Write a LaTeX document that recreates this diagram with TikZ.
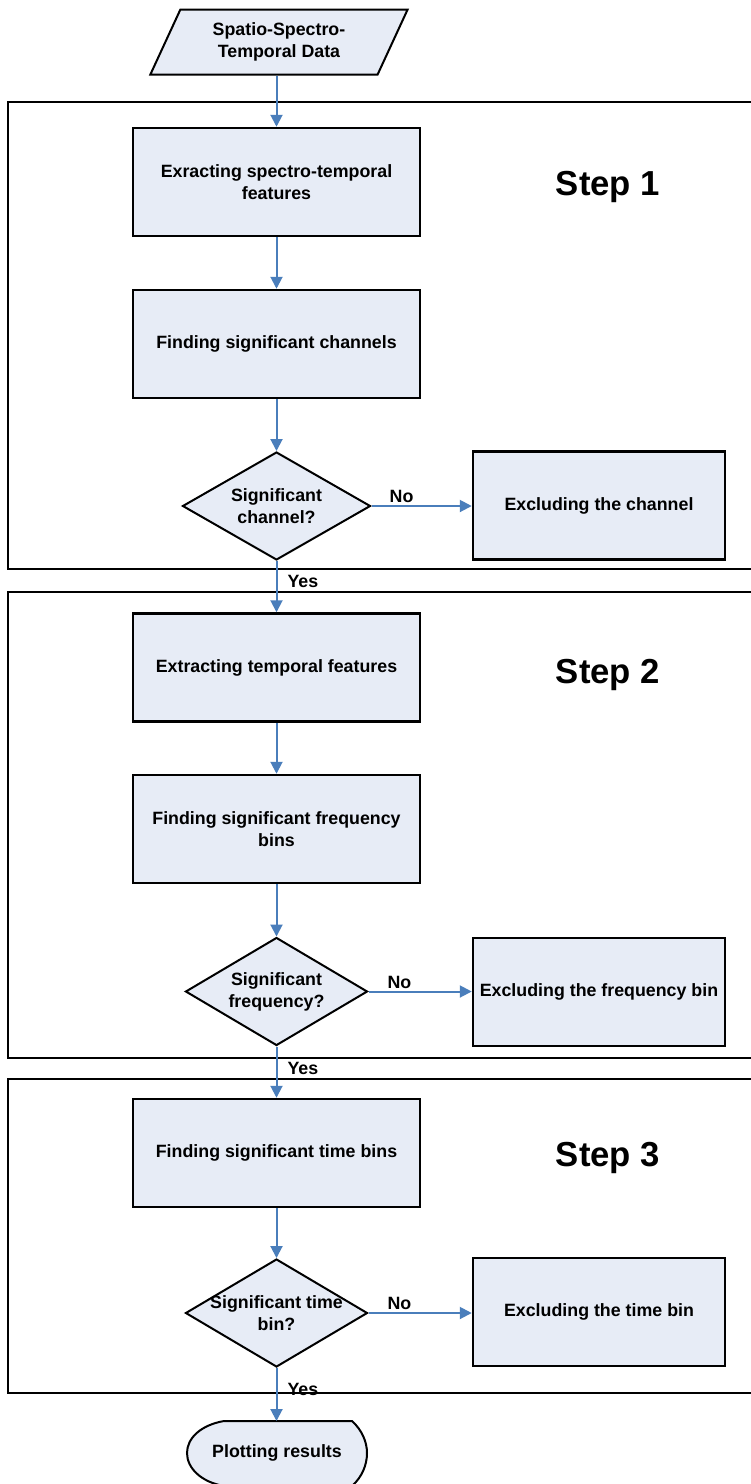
\documentclass[tikz,border=0pt]{standalone}
\usepackage{fontspec}
\setsansfont{Liberation Sans}
\usetikzlibrary{shapes.geometric,arrows.meta}
\newcommand{\unitsize}{1pt}
\definecolor{boxfill}{RGB}{231,236,246}
\definecolor{flowblue}{RGB}{74,126,187}
\tikzset{
	txt/.style={font=\sffamily\bfseries\fontsize{17.8}{22}\selectfont, align=center, inner sep=2pt},
	steptxt/.style={font=\sffamily\bfseries\fontsize{34.7}{40}\selectfont},
	frame/.style={draw=black, line width=1.5pt},
	process/.style={txt, draw, line width=2.5pt, fill=boxfill, minimum width=287pt, minimum height=108pt, inner sep=0pt},
	exclude/.style={process, minimum width=252pt},
	decision/.style={draw, diamond, line width=2pt, fill=boxfill, inner sep=0pt, minimum width=182pt, minimum height=108pt},
	io/.style={txt, draw, trapezium, trapezium left angle=64, trapezium right angle=116, trapezium stretches=true, minimum width=258pt, minimum height=65pt, line width=2pt, fill=boxfill},
	term/.style={draw, line width=2pt, fill=boxfill},
	flow/.style={draw=flowblue, line width=2pt, -{Triangle[length=12pt,width=12pt]}}
}

\begin{document}
\begin{tikzpicture}[x=\unitsize,y=-\unitsize]
	\useasboundingbox (0,0) rectangle (751,1484);

	% frames of the three steps
	\draw[frame] (8,102) rectangle (760,569);
	\draw[frame] (8,592) rectangle (760,1058);
	\draw[frame] (8,1079) rectangle (760,1393);
	\node[steptxt] (step1) at (608,187) {Step 1};
	\node[steptxt] (step2) at (608,675) {Step 2};
	\node[steptxt] (step3) at (608,1158) {Step 3};

	\node[io] (data) at (279,42) {Spatio-Spectro-\\Temporal Data};

	% step 1
	\node[process] (spectro) at (276.5,182) {Exracting spectro-temporal\\features};
	\node[process] (channels) at (276.5,344) {Finding significant channels};
	\node[decision, minimum width=188pt, label={[txt]center:Significant\\channel?}] (ischannel) at (276.5,506) {};
	\node[exclude] (nochannel) at (599,505.5) {Excluding the channel};

	% step 2
	\node[process] (temporal) at (276.5,667.5) {Extracting temporal features};
	\node[process] (freqbins) at (276.5,829) {Finding significant frequency\\bins};
	\node[decision, label={[txt]center:Significant\\frequency?}] (isfreq) at (276.5,991.5) {};
	\node[exclude] (nofreq) at (599,992) {Excluding the frequency bin};

	% step 3
	\node[process] (timebins) at (276.5,1153) {Finding significant time bins};
	\node[decision, label={[txt]center:Significant time\\bin?}] (istime) at (276.5,1313) {};
	\node[exclude] (notime) at (599,1312) {Excluding the time bin};

	\coordinate (plottop) at (276.5,1421);
	\draw[term] (224,1421) -- (352,1421) .. controls (362,1430) and (367,1442) .. (367,1453)
		.. controls (367,1465) and (362,1477) .. (352,1486) -- (224,1486)
		.. controls (201,1482) and (187,1468) .. (187,1453)
		.. controls (187,1438) and (201,1425) .. (224,1421) -- cycle;
	\node[txt] (plot) at (277,1453) {Plotting results};

	\draw[flow] (spectro.north |- data.south) -- (spectro);
	\draw[flow] (spectro) -- (channels);
	\draw[flow] (channels) -- (ischannel);
	\draw[flow] (ischannel.east) -- node[txt, pos=0.3, above] (no1) {No} (ischannel.east -| nochannel.west);
	\draw[flow] (ischannel) -- node[txt, pos=0.4, right=8pt] (yes1) {Yes} (temporal);
	\draw[flow] (temporal) -- (freqbins);
	\draw[flow] (freqbins) -- (isfreq);
	\draw[flow] (isfreq.east) -- node[txt, pos=0.3, above] (no2) {No} (isfreq.east -| nofreq.west);
	\draw[flow] (isfreq) -- node[txt, pos=0.42, right=8pt] (yes2) {Yes} (timebins);
	\draw[flow] (timebins) -- (istime);
	\draw[flow] (istime.east) -- node[txt, pos=0.3, above] (no3) {No} (istime.east -| notime.west);
	\draw[flow] (istime) -- node[txt, pos=0.4, right=8pt] (yes3) {Yes} (plottop);
\end{tikzpicture}
\end{document}
